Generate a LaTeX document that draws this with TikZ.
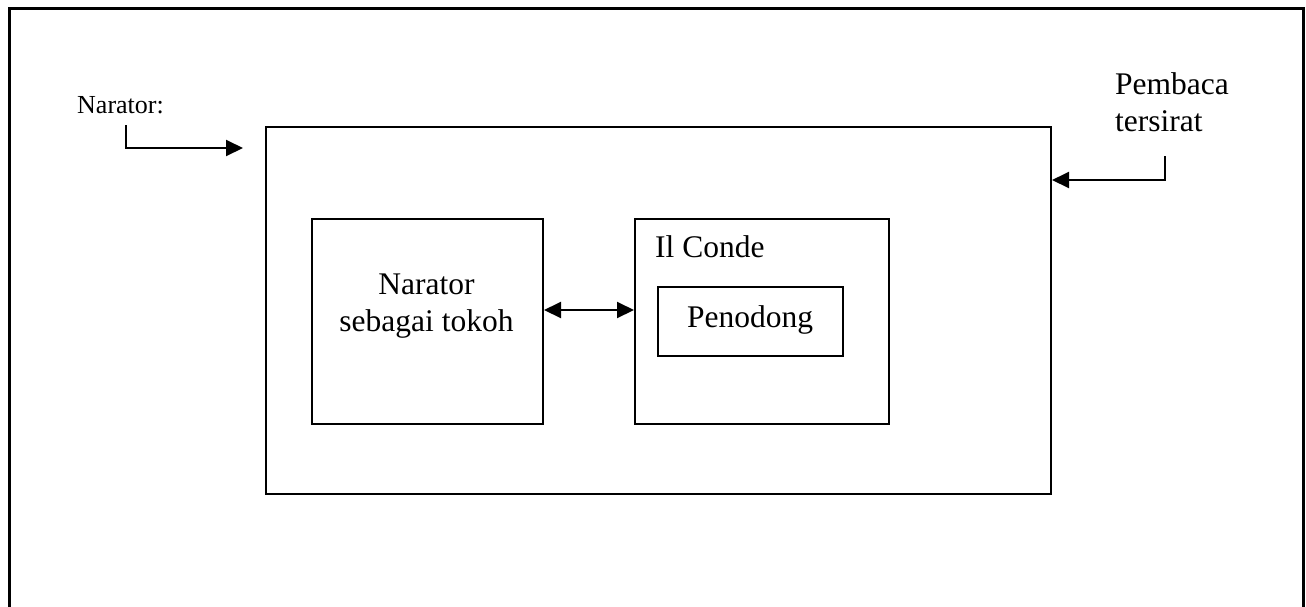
\documentclass[tikz,border=0pt]{standalone}
\usepackage{fontspec}
\setmainfont{Liberation Serif}
\usetikzlibrary{arrows.meta}
\begin{document}
\begin{tikzpicture}[x=1pt,y=-1pt,
  box/.style={draw=black, line width=2pt, anchor=north west, inner sep=0pt},
  big/.style={font=\fontsize{31.5}{37}\selectfont, inner sep=0pt},
  small/.style={font=\fontsize{26}{30}\selectfont, inner sep=0pt},
  arr/.style={line width=2pt, -{Triangle[length=17pt,width=16pt]}},
  darr/.style={line width=2pt, {Triangle[length=17pt,width=16pt]}-{Triangle[length=17pt,width=16pt]}}]
\useasboundingbox (0,0) rectangle (1306,606);
\clip (0,0) rectangle (1306,606);
\fill[white] (0,0) rectangle (1306,606);
% outer frame
\draw[line width=3pt] (9,640) -- (9,8) -- (1303,8) -- (1303,640);
% main box
\node[box, minimum width=785pt, minimum height=367pt] (main) at (265,126) {};
% left box
\node[box, minimum width=231pt, minimum height=205pt] (left) at (311,218) {};
% right box
\node[box, minimum width=254pt, minimum height=205pt] (right) at (634,218) {};
% inner box
\node[box, minimum width=185pt, minimum height=69pt] (pen) at (657,286) {};
% texts
\node[small, anchor=base west] (ntext) at (77,113) {Narator:};
\node[big, anchor=base west, align=left] (ptext) at (1115,131) {Pembaca\\tersirat};
\node[big, anchor=base, align=center] (ltext) at (426.5,331) {Narator\\sebagai tokoh};
\node[big, anchor=base west] (ctext) at (655,257) {Il Conde};
\node[big, anchor=base] (pentext) at (750,327) {Penodong};
% arrows
\coordinate (n1) at (126,125);
\coordinate (n2) at (243,148);
\draw[arr] (n1) |- (n2);
\coordinate (p1) at (1165,156);
\coordinate (p2) at (0,180);
\draw[arr] (p1) |- (main.east |- p2);
\coordinate (dy) at (0,310);
\draw[darr] (left.east |- dy) -- (right.west |- dy);
\end{tikzpicture}
\end{document}
